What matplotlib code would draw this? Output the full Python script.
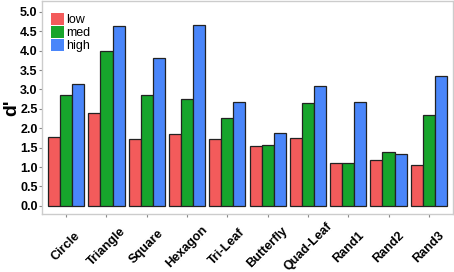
import matplotlib
matplotlib.use("Agg")
import matplotlib.pyplot as plt
import numpy as np
from matplotlib.patches import Patch

categories = ["Circle", "Triangle", "Square", "Hexagon", "Tri-Leaf", "Butterfly",
              "Quad-Leaf", "Rand1", "Rand2", "Rand3"]
low = [1.77, 2.40, 1.73, 1.84, 1.72, 1.53, 1.76, 1.11, 1.19, 1.05]
med = [2.87, 3.98, 2.87, 2.75, 2.27, 1.58, 2.66, 1.10, 1.38, 2.33]
high = [3.14, 4.64, 3.80, 4.67, 2.67, 1.88, 3.10, 2.67, 1.34, 3.34]
series_names = ["low", "med", "high"]
yticks = [0.0, 0.5, 1.0, 1.5, 2.0, 2.5, 3.0, 3.5, 4.0, 4.5, 5.0]

colors = ["#F35B5B", "#17A52C", "#4A86FA"]
plt.rcParams["font.family"] = ["Liberation Sans", "DejaVu Sans"]

fig = plt.figure(figsize=(4.54, 2.72), dpi=100)
ax = fig.add_axes([42/454, (272-214)/272, 411/454, 213/272])

x = np.arange(1, len(categories) + 1)
w = 0.3
for i, (vals, name) in enumerate(zip([low, med, high], series_names)):
    ax.bar(x + (i - 1) * w, vals, width=w, color=colors[i], edgecolor="#222222",
           linewidth=0.9, label=name)

ax.set_xlim(0.4, 10.6)
ax.set_ylim(-0.21, 5.28)
ax.set_yticks(yticks)
ax.set_yticklabels([f"{t:.1f}" for t in yticks], fontweight="bold", fontsize=9)
ax.set_xticks(x)
ax.set_xticklabels(categories, rotation=45, ha="center", va="center",
                   fontweight="bold", fontsize=9.1)
ax.tick_params(axis="both", length=2.2, color="#888888", width=0.8)
ax.tick_params(axis="y", pad=1)
ax.tick_params(axis="x", pad=21.5)
for s in ax.spines.values():
    s.set_color("#CCCCCC")
    s.set_linewidth(1.0)
ax.set_ylabel("d'", fontsize=14, fontweight="bold", labelpad=0)

handles = [Patch(facecolor=c, edgecolor="none") for c in colors]
leg = ax.legend(handles, series_names, loc="upper left", bbox_to_anchor=(9/411, 1 - 12/213),
                frameon=False, fontsize=9, handlelength=1.05, handleheight=1.05,
                handletextpad=0.15, labelspacing=0.0, borderaxespad=0.0, borderpad=0.0)

fig.savefig("out.png", dpi=100)
